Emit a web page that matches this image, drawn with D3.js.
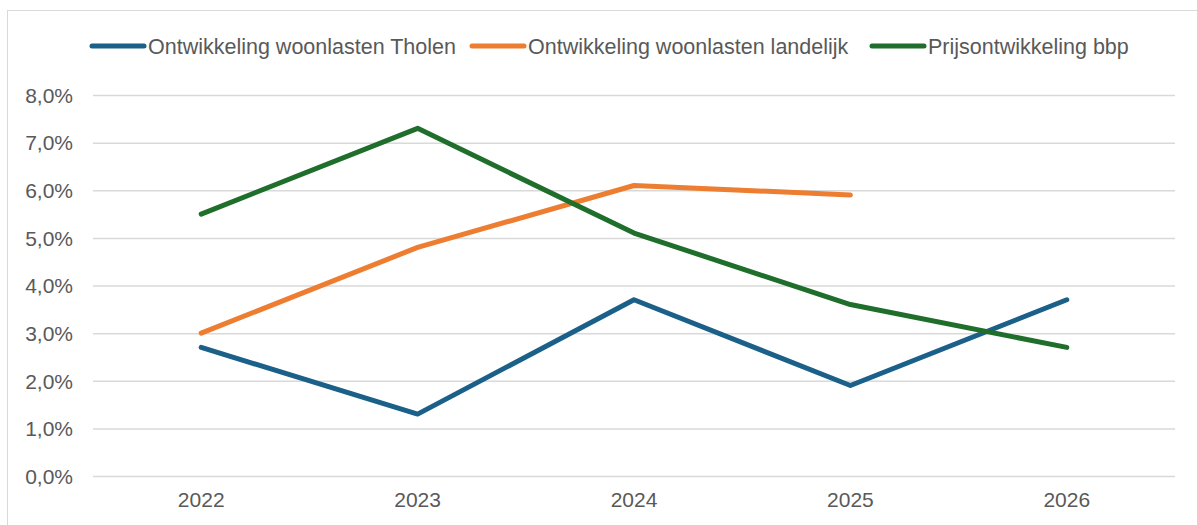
<!DOCTYPE html>
<html><head><meta charset="utf-8">
<script src="https://cdn.jsdelivr.net/npm/d3@7"></script>
<style>body{margin:0;background:#fff;}svg{display:block;font-family:"Liberation Sans",Arial,sans-serif;}</style>
</head><body><svg id="c" width="1197" height="525"></svg>
<script>
const categories = ["2022","2023","2024","2025","2026"];
const seriesNames = ["Ontwikkeling woonlasten Tholen","Ontwikkeling woonlasten landelijk","Prijsontwikkeling bbp"];
const tholen = [2.7, 1.3, 3.7, 1.9, 3.7];
const landelijk = [3.0, 4.8, 6.1, 5.9, null];
const bbp = [5.5, 7.3, 5.1, 3.6, 2.7];
const yTicks = [0,1,2,3,4,5,6,7,8];
const colors = ["#1b6089","#ed7d31","#1f6e2b"];

const svg = d3.select("#c");
svg.append("rect").attr("x",7.5).attr("y",10.5).attr("width",1200).attr("height",530)
  .attr("fill","none").attr("stroke","#d9d9d9").attr("stroke-width",1);

const L=93, R=1175, T=95, B=476;
const x = d3.scaleBand().domain(categories).range([L,R]);
const y = d3.scaleLinear().domain([0,8]).range([B,T]);

const yAxis = d3.axisLeft(y).tickValues(yTicks).tickSize(-(R-L)).tickPadding(0)
  .tickFormat(d => d3.format(".1f")(d).replace(".",",") + "%");
const gy = svg.append("g").attr("transform",`translate(${L},0)`).call(yAxis);
gy.select(".domain").remove();
gy.selectAll(".tick line").attr("stroke","#d9d9d9").attr("stroke-width",1.5);
gy.selectAll(".tick text").attr("fill","#595959").attr("font-size",21).attr("x",-20).attr("dy","0.35em").attr("text-anchor","end");

const xAxis = d3.axisBottom(x).tickSize(0).tickPadding(16);
const gx = svg.append("g").attr("transform",`translate(0,${B})`).call(xAxis);
gx.select(".domain").remove();
gx.selectAll(".tick text").attr("fill","#595959").attr("font-size",21);

const data = [tholen, landelijk, bbp];
const line = d3.line().defined(d => d.v != null)
  .x(d => x(d.c) + x.bandwidth()/2).y(d => y(d.v));
data.forEach((arr,i) => {
  svg.append("path").datum(categories.map((c,j)=>({c, v: arr[j]})))
    .attr("d", line).attr("fill","none").attr("stroke",colors[i])
    .attr("stroke-width",5).attr("stroke-linejoin","round").attr("stroke-linecap","round");
});

const legX = [90, 470, 870];
seriesNames.forEach((n,i) => {
  const g = svg.append("g").attr("transform",`translate(${legX[i]},46)`);
  g.append("line").attr("x1",2).attr("x2",54).attr("y1",0).attr("y2",0)
    .attr("stroke",colors[i]).attr("stroke-width",5).attr("stroke-linecap","round");
  g.append("text").attr("x",58).attr("y",7.5).attr("fill","#595959").attr("font-size",21.5).text(n);
});
</script></body></html>
